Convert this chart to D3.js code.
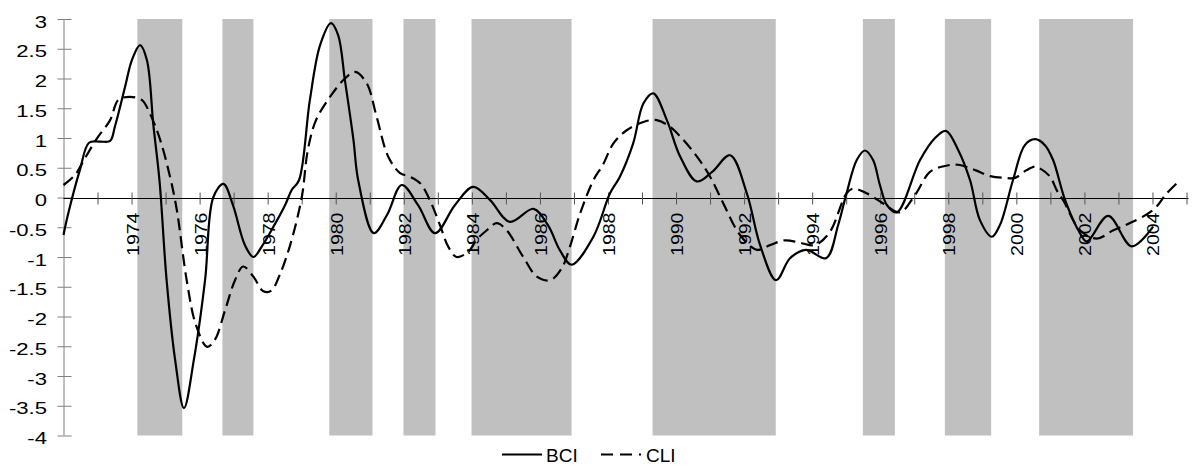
<!DOCTYPE html>
<html>
<head>
<meta charset="utf-8">
<script src="https://cdn.jsdelivr.net/npm/d3@7/dist/d3.min.js"></script>
<style>
  html, body { margin: 0; padding: 0; background: #fff; }
  svg { display: block; font-family: "Liberation Sans", Arial, sans-serif; }
</style>
</head>
<body>
<svg id="chart" width="1192" height="470"></svg>
<script>
// Recession periods (decimal years)
const recessionStart = [1974.17, 1976.67, 1979.81, 1981.99, 1983.99, 1989.31, 1995.49, 1997.90, 2000.67];
const recessionEnd   = [1975.49, 1977.58, 1981.08, 1982.93, 1986.93, 1992.93, 1996.43, 1999.26, 2003.43];

// BCI (solid line)
const bciYears = [1972.00, 1972.13, 1972.48, 1972.75, 1973.07, 1973.37, 1973.51, 1973.81, 1974.01, 1974.25,
  1974.45, 1974.64, 1974.82, 1975.03, 1975.28, 1975.54, 1975.83, 1976.16, 1976.40, 1976.70,
  1976.98, 1977.33, 1977.58, 1977.83, 1978.17, 1978.51, 1978.71, 1978.92, 1979.24, 1979.54,
  1979.86, 1980.07, 1980.27, 1980.52, 1980.66, 1981.12, 1981.51, 1981.94, 1982.42, 1982.92,
  1983.50, 1984.04, 1984.53, 1985.12, 1985.81, 1986.24, 1986.59, 1986.93, 1987.57, 1988.06,
  1988.35, 1988.74, 1989.04, 1989.33, 1989.73, 1990.12, 1990.61, 1991.06, 1991.59, 1992.08,
  1992.47, 1992.94, 1993.35, 1993.82, 1994.41, 1994.76, 1995.01, 1995.31, 1995.55, 1995.79,
  1995.99, 1996.20, 1996.49, 1997.17, 1997.61, 1997.93, 1998.29, 1998.64, 1998.93, 1999.28,
  1999.52, 1999.90, 2000.25, 2000.55, 2000.84, 2001.08, 2001.43, 2001.87, 2002.07, 2002.70,
  2003.39, 2004.02];
const bciValues = [-0.63, -0.29, 0.46, 0.92, 0.94, 0.95, 1.19, 1.86, 2.31, 2.56,
  2.31, 1.22, 0.29, -1.39, -2.73, -3.54, -2.73, -1.39, 0.00, 0.23,
  -0.13, -0.80, -1.00, -0.82, -0.49, -0.13, 0.13, 0.29, 1.64, 2.56,
  2.93, 2.73, 1.97, 0.97, 0.29, -0.60, -0.29, 0.21, -0.13, -0.60,
  -0.13, 0.18, -0.04, -0.41, -0.19, -0.47, -0.89, -1.13, -0.66, 0.07,
  0.35, 0.91, 1.58, 1.75, 1.30, 0.69, 0.27, 0.43, 0.71, 0.07,
  -0.80, -1.39, -1.02, -0.88, -1.02, -0.47, 0.07, 0.63, 0.79, 0.63,
  0.21, -0.13, -0.25, 0.63, 1.00, 1.12, 0.80, 0.29, -0.38, -0.66,
  -0.46, 0.29, 0.88, 0.98, 0.88, 0.63, -0.04, -0.60, -0.74, -0.31,
  -0.82, -0.49];

// CLI (dashed line)
const cliYears = [1972.00, 1972.34, 1972.63, 1972.98, 1973.37, 1973.61, 1973.95, 1974.30, 1974.54, 1974.84,
  1975.13, 1975.33, 1975.62, 1975.89, 1976.22, 1976.45, 1976.75, 1977.04, 1977.28, 1977.58,
  1977.86, 1978.10, 1978.36, 1978.66, 1979.00, 1979.18, 1979.42, 1979.83, 1980.27, 1980.57,
  1980.91, 1981.20, 1981.54, 1981.89, 1982.18, 1982.48, 1982.77, 1983.06, 1983.31, 1983.55,
  1983.90, 1984.14, 1984.44, 1984.73, 1985.02, 1985.51, 1985.91, 1986.30, 1986.64, 1986.88,
  1987.18, 1987.57, 1987.85, 1988.16, 1988.55, 1989.04, 1989.43, 1989.82, 1990.21, 1990.61,
  1991.00, 1991.39, 1991.88, 1992.38, 1992.76, 1993.20, 1993.64, 1994.08, 1994.52, 1995.01,
  1995.21, 1995.60, 1996.09, 1996.58, 1997.02, 1997.46, 1997.90, 1998.29, 1998.79, 1999.23,
  1999.67, 1999.96, 2000.30, 2000.55, 2000.69, 2000.99, 2001.19, 2001.38, 2001.87, 2002.36,
  2002.85, 2003.34, 2004.02, 2004.42, 2004.81];
const cliValues = [0.21, 0.38, 0.66, 0.99, 1.30, 1.64, 1.69, 1.64, 1.41, 0.97,
  0.35, -0.21, -1.39, -2.14, -2.51, -2.39, -1.89, -1.39, -1.16, -1.33,
  -1.57, -1.57, -1.29, -0.80, 0.00, 0.80, 1.30, 1.69, 2.00, 2.11,
  1.92, 1.36, 0.69, 0.41, 0.35, 0.24, -0.05, -0.46, -0.83, -1.00,
  -0.91, -0.71, -0.55, -0.43, -0.55, -1.00, -1.33, -1.39, -1.19, -0.83,
  -0.27, 0.29, 0.55, 0.91, 1.13, 1.27, 1.30, 1.19, 0.97, 0.69,
  0.35, -0.10, -0.63, -0.88, -0.80, -0.72, -0.76, -0.80, -0.58, 0.07,
  0.15, 0.07, -0.10, -0.25, 0.04, 0.43, 0.53, 0.55, 0.46, 0.36,
  0.33, 0.33, 0.46, 0.52, 0.49, 0.35, 0.12, -0.05, -0.55, -0.69,
  -0.55, -0.43, -0.21, 0.07, 0.29];

// Axis ticks and labels
const yTickValues = [3, 2.5, 2, 1.5, 1, 0.5, 0, -0.5, -1, -1.5, -2, -2.5, -3, -3.5, -4];
const yTickLabels = ["3", "2.5", "2", "1.5", "1", "0.5", "0", "-0.5", "-1", "-1.5", "-2", "-2.5", "-3", "-3.5", "-4"];
const xTickYears = [1973, 1974, 1975, 1976, 1977, 1978, 1979, 1980, 1981, 1982, 1983, 1984, 1985, 1986, 1987,
  1988, 1989, 1990, 1991, 1992, 1993, 1994, 1995, 1996, 1997, 1998, 1999, 2000, 2001, 2002, 2003, 2004, 2005];
const xLabelYears = [1974, 1976, 1978, 1980, 1982, 1984, 1986, 1988, 1990, 1992, 1994, 1996, 1998, 2000, 2002, 2004];

const seriesNames = ["BCI", "CLI"];

const svg = d3.select("#chart");
const x = d3.scaleLinear().domain([1972, 2005]).range([63.5, 1186.5]);
const y = d3.scaleLinear().domain([-4, 3]).range([435.5, 19]);

// Recession shading
svg.append("g").selectAll("rect")
  .data(recessionStart.map((s, i) => [s, recessionEnd[i]]))
  .join("rect")
  .attr("x", d => x(d[0]))
  .attr("width", d => x(d[1]) - x(d[0]))
  .attr("y", y(3))
  .attr("height", y(-4) - y(3))
  .attr("fill", "#c0c0c0");

// Y axis
const yAxis = svg.append("g")
  .attr("transform", `translate(${x(1972)},0)`)
  .call(d3.axisLeft(y).tickValues(yTickValues).tickSize(7).tickFormat(""));
yAxis.select(".domain").attr("stroke", "#808080").attr("d", `M0.5,${y(3)}V${y(-4)}`);
yAxis.selectAll(".tick line").attr("stroke", "#808080").attr("x1", -6).attr("x2", 8);

svg.append("g").selectAll("text")
  .data(yTickValues)
  .join("text")
  .attr("transform", d => `translate(47,${y(d) + 8.5}) scale(1.3,1)`)
  .attr("text-anchor", "end")
  .attr("font-size", 17)
  .attr("fill", "#000")
  .text((d, i) => yTickLabels[i]);

// X axis through zero
const xAxis = svg.append("g")
  .attr("transform", `translate(0,${Math.round(y(0)) + 0.5})`)
  .call(d3.axisBottom(x).tickValues(xTickYears).tickSize(6).tickFormat(""));
xAxis.select(".domain").attr("stroke", "#000").attr("d", `M${x(1972)},0H${x(2005) + 2}`);
xAxis.selectAll(".tick line").attr("stroke", "#555").attr("y1", -6).attr("y2", 6);

svg.append("g").selectAll("text")
  .data(xLabelYears)
  .join("text")
  .attr("transform", d => `translate(${x(d) + 7},${y(0) + 15}) rotate(-90) scale(1.15,1)`)
  .attr("text-anchor", "end")
  .attr("font-size", 17)
  .attr("fill", "#000")
  .text(d => d);

// Series lines
const line = d3.line()
  .x(d => x(d[0]))
  .y(d => y(d[1]))
  .curve(d3.curveCatmullRom.alpha(0.5));

svg.append("path")
  .datum(cliYears.map((t, i) => [t, cliValues[i]]))
  .attr("d", line)
  .attr("fill", "none")
  .attr("stroke", "#000")
  .attr("stroke-width", 2.2)
  .attr("stroke-dasharray", "12,6");

svg.append("path")
  .datum(bciYears.map((t, i) => [t, bciValues[i]]))
  .attr("d", line)
  .attr("fill", "none")
  .attr("stroke", "#000")
  .attr("stroke-width", 2.2);

// Legend
const legend = svg.append("g");
legend.append("line")
  .attr("x1", 502).attr("x2", 542).attr("y1", 454.5).attr("y2", 454.5)
  .attr("stroke", "#000").attr("stroke-width", 2.2);
legend.append("text")
  .attr("x", 546).attr("y", 461.5)
  .attr("font-size", 19).text(seriesNames[0]);
legend.append("line")
  .attr("x1", 601).attr("x2", 641).attr("y1", 454.5).attr("y2", 454.5)
  .attr("stroke", "#000").attr("stroke-width", 2.2).attr("stroke-dasharray", "12,7");
legend.append("text")
  .attr("x", 646).attr("y", 461.5)
  .attr("font-size", 19).text(seriesNames[1]);
</script>
</body>
</html>
